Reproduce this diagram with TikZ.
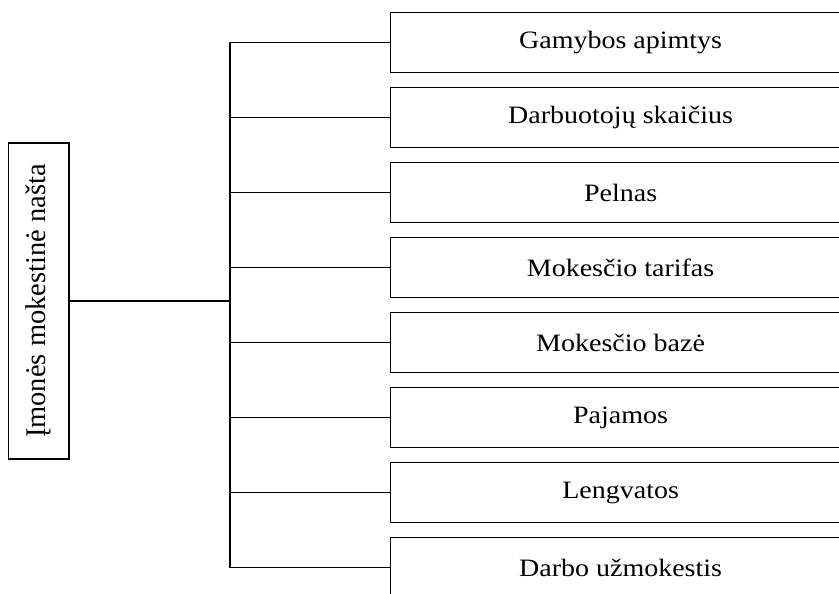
\documentclass[tikz,border=0pt]{standalone}
\usepackage{fontspec}
\setmainfont{Liberation Serif}
\begin{document}
\begin{tikzpicture}[x=1pt,y=-1pt,
  item/.style={draw,line width=1.2pt,minimum width=460pt,minimum height=60pt,anchor=west,inner sep=0pt,
    font=\fontsize{25}{30}\selectfont},
  conn/.style={line width=1.1pt}]
\useasboundingbox (0,0) rectangle (839,594);
\clip (0,0) rectangle (839,594);
\node[draw,line width=1.2pt,minimum width=60.5pt,minimum height=316pt,inner sep=0pt] (L) at (38.75,301)
  {\rotatebox{90}{\fontsize{28.5}{30}\selectfont Įmonės mokestinė našta}};
\foreach \i/\t in {1/Gamybos apimtys,2/Darbuotojų skaičius,3/Pelnas,4/Mokesčio tarifas,5/Mokesčio bazė,6/Pajamos,7/Lengvatos,8/Darbo užmokestis}{
  \node[item] (b\i) at (390,{42.7+75*(\i-1)}) {\scalebox{1.12}[1]{\t}};
}
\coordinate (j) at (230,301);
\draw[line width=1.5pt] (L.east) -- (j);
\draw[conn] (b1.west) -- (b1.west -| j) -- (b8.west -| j) -- (b8.west);
\foreach \i in {2,...,7}{
  \draw[conn] (b\i.west) -- (b\i.west -| j);
}
\end{tikzpicture}
\end{document}
